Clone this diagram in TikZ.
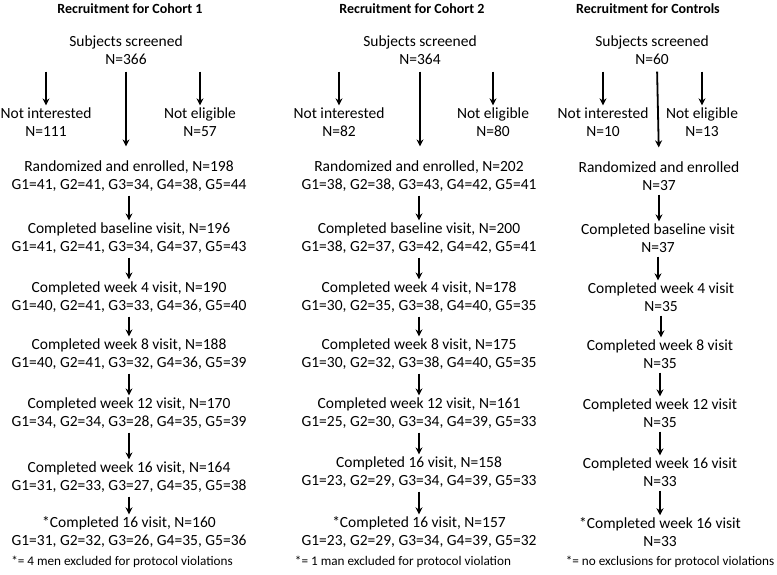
\documentclass[tikz,border=0pt]{standalone}
\usepackage{fontspec}
\setmainfont{Carlito}
\usetikzlibrary{arrows.meta}

\begin{document}
\begin{tikzpicture}[x=1pt,y=-1pt,
		txt/.style={align=center,inner sep=2pt,font=\fontsize{15.5}{18}\selectfont},
		ttl/.style={font=\fontsize{14}{17}\selectfont\bfseries},
		note/.style={font=\fontsize{13.2}{15}\selectfont},
		flow/.style={-{Stealth[length=7pt,width=7pt]},line width=1.8pt,shorten <=2pt,shorten >=0pt}]
		\useasboundingbox (0,0) rectangle (777,575);
		% Cohort 1
		\node[ttl] (t1) at (130,9) {Recruitment for Cohort 1};
		\node[txt] (scr1) at (126,50) {Subjects screened\\N=366};
		\node[txt] (ni1) at (46,122) {Not interested\\N=111};
		\node[txt] (ne1) at (200,122) {Not eligible\\N=57};
		\node[txt] (rand1) at (129,176) {Randomized and enrolled, N=198\\G1=41, G2=41, G3=34, G4=38, G5=44};
		\node[txt] (base1) at (129,238) {Completed baseline visit, N=196\\G1=41, G2=41, G3=34, G4=37, G5=43};
		\node[txt] (wkfour1) at (129,297) {Completed week 4 visit, N=190\\G1=40, G2=41, G3=33, G4=36, G5=40};
		\node[txt] (wkeight1) at (129,354) {Completed week 8 visit, N=188\\G1=40, G2=41, G3=32, G4=36, G5=39};
		\node[txt] (wktwelve1) at (129,413) {Completed week 12 visit, N=170\\G1=34, G2=34, G3=28, G4=35, G5=39};
		\node[txt] (wksixteen1) at (129,477) {Completed week 16 visit, N=164\\G1=31, G2=33, G3=27, G4=35, G5=38};
		\node[txt] (fin1) at (129,532) {*Completed 16 visit, N=160\\G1=31, G2=32, G3=26, G4=35, G5=36};
		\node[note] (nt1) at (122,562) {*= 4 men excluded for protocol violations};
		\draw[flow,shorten <=5pt] (ni1.north |- scr1.south) -- (ni1.north);
		\draw[flow,shorten <=5pt] (ne1.north |- scr1.south) -- (ne1.north);
		\draw[flow,shorten <=5pt,shorten >=12pt] (scr1.south) -- (scr1.south |- rand1.north);
		\draw[flow] (rand1.south) -- (rand1.south |- base1.north);
		\draw[flow] (base1.south) -- (base1.south |- wkfour1.north);
		\draw[flow] (wkfour1.south) -- (wkfour1.south |- wkeight1.north);
		\draw[flow] (wkeight1.south) -- (wkeight1.south |- wktwelve1.north);
		\draw[flow] (wktwelve1.south) -- (wktwelve1.south |- wksixteen1.north);
		\draw[flow] (wksixteen1.south) -- (wksixteen1.south |- fin1.north);
		% Cohort 2
		\node[ttl] (t2) at (412,9) {Recruitment for Cohort 2};
		\node[txt] (scr2) at (420,50) {Subjects screened\\N=364};
		\node[txt] (ni2) at (339,122) {Not interested\\N=82};
		\node[txt] (ne2) at (493,122) {Not eligible\\N=80};
		\node[txt] (rand2) at (419,176) {Randomized and enrolled, N=202\\G1=38, G2=38, G3=43, G4=42, G5=41};
		\node[txt] (base2) at (419,238) {Completed baseline visit, N=200\\G1=38, G2=37, G3=42, G4=42, G5=41};
		\node[txt] (wkfour2) at (419,297) {Completed week 4 visit, N=178\\G1=30, G2=35, G3=38, G4=40, G5=35};
		\node[txt] (wkeight2) at (419,354) {Completed week 8 visit, N=175\\G1=30, G2=32, G3=38, G4=40, G5=35};
		\node[txt] (wktwelve2) at (419,413) {Completed week 12 visit, N=161\\G1=25, G2=30, G3=34, G4=39, G5=33};
		\node[txt] (wksixteen2) at (419,472) {Completed 16 visit, N=158\\G1=23, G2=29, G3=34, G4=39, G5=33};
		\node[txt] (fin2) at (419,532) {*Completed 16 visit, N=157\\G1=23, G2=29, G3=34, G4=39, G5=32};
		\node[note] (nt2) at (403,562) {*= 1 man excluded for protocol violation};
		\draw[flow,shorten <=5pt] (ni2.north |- scr2.south) -- (ni2.north);
		\draw[flow,shorten <=5pt] (ne2.north |- scr2.south) -- (ne2.north);
		\draw[flow,shorten <=5pt,shorten >=12pt] (scr2.south) -- (scr2.south |- rand2.north);
		\draw[flow] (rand2.south) -- (rand2.south |- base2.north);
		\draw[flow] (base2.south) -- (base2.south |- wkfour2.north);
		\draw[flow] (wkfour2.south) -- (wkfour2.south |- wkeight2.north);
		\draw[flow] (wkeight2.south) -- (wkeight2.south |- wktwelve2.north);
		\draw[flow] (wktwelve2.south) -- (wktwelve2.south |- wksixteen2.north);
		\draw[flow] (wksixteen2.south) -- (wksixteen2.south |- fin2.north);
		% Controls
		\node[ttl] (t3) at (648,9) {Recruitment for Controls};
		\node[txt] (scr3) at (652,50) {Subjects screened\\N=60};
		\node[txt] (ni3) at (603,122) {Not interested\\N=10};
		\node[txt] (ne3) at (702,122) {Not eligible\\N=13};
		\node[txt] (rand3) at (659,176) {Randomized and enrolled\\N=37};
		\node[txt] (base3) at (658,238) {Completed baseline visit\\N=37};
		\node[txt] (wkfour3) at (661,297) {Completed week 4 visit\\N=35};
		\node[txt] (wkeight3) at (660,354) {Completed week 8 visit\\N=35};
		\node[txt] (wktwelve3) at (660,413) {Completed week 12 visit\\N=35};
		\node[txt] (wksixteen3) at (660,472) {Completed week 16 visit\\N=33};
		\node[txt] (fin3) at (660,532) {*Completed week 16 visit\\N=33};
		\node[note] (nt3) at (670,562) {*= no exclusions for protocol violations};
		\draw[flow,shorten <=5pt] (ni3.north |- scr3.south) -- (ni3.north);
		\draw[flow,shorten <=5pt] (ne3.north |- scr3.south) -- (ne3.north);
		\draw[flow,shorten <=5pt,shorten >=12pt] ([xshift=5pt]scr3.south) -- (rand3.north);
		\draw[flow] (rand3.south) -- (rand3.south |- base3.north);
		\draw[flow] (base3.south) -- (base3.south |- wkfour3.north);
		\draw[flow] (wkfour3.south) -- (wkfour3.south |- wkeight3.north);
		\draw[flow] (wkeight3.south) -- (wkeight3.south |- wktwelve3.north);
		\draw[flow] (wktwelve3.south) -- (wktwelve3.south |- wksixteen3.north);
		\draw[flow] (wksixteen3.south) -- (wksixteen3.south |- fin3.north);
	\end{tikzpicture}
\end{document}
